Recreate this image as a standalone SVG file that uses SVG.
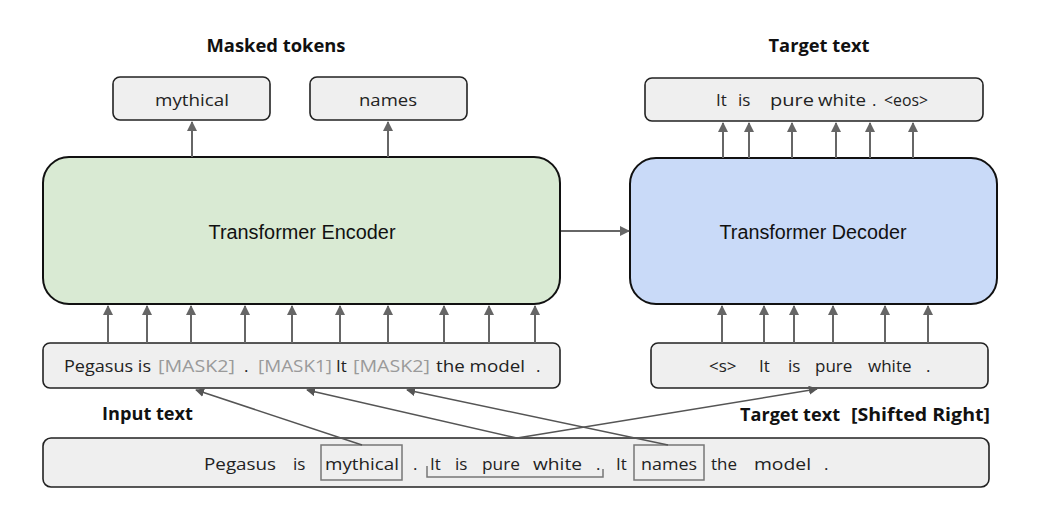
<svg xmlns="http://www.w3.org/2000/svg" width="1038" height="528" viewBox="0 0 1038 528">
<defs>
<marker id="ah" viewBox="0 0 10 10" refX="9" refY="5" markerWidth="10" markerHeight="10" markerUnits="userSpaceOnUse" orient="auto">
<path d="M0,0 L10,5 L0,10 z" fill="#666"/>
</marker>
<marker id="ah2" viewBox="0 0 10 10" refX="9" refY="5" markerWidth="9" markerHeight="9" markerUnits="userSpaceOnUse" orient="auto">
<path d="M0,0 L10,5 L0,10 z" fill="#555"/>
</marker>
<style>
.tok{fill:#efefef;stroke:#222;stroke-width:1.6}
.enc{fill:#d9ead3;stroke:#111;stroke-width:2}
.dec{fill:#c9daf8;stroke:#111;stroke-width:2}
.t{font-family:"Open Sans","Liberation Sans",sans-serif;font-size:17px;fill:#222}
.m{fill:#9a9a9a}
.lbl{font-family:"Open Sans","Liberation Sans",sans-serif;font-size:17px;font-weight:700;fill:#111}
.big{font-family:"Liberation Sans",Arial,sans-serif;font-size:20px;fill:#111}
.ar{stroke:#666;stroke-width:2;fill:none;marker-end:url(#ah)}
.ln{stroke:#555;stroke-width:1.5;fill:none;marker-end:url(#ah2)}
.hl{fill:none;stroke:#777;stroke-width:1.5}
</style>
</defs>
<rect width="1038" height="528" fill="#fff"/>

<g id="label-masked"><text class="lbl" x="276" y="52" text-anchor="middle" textLength="139" lengthAdjust="spacingAndGlyphs">Masked tokens</text></g>
<g id="label-target"><text class="lbl" x="819" y="52" text-anchor="middle" textLength="101" lengthAdjust="spacingAndGlyphs">Target text</text></g>
<g id="label-input"><text class="lbl" x="102" y="420" textLength="91" lengthAdjust="spacingAndGlyphs">Input text</text></g>
<g id="label-shifted"><text class="lbl" y="421"><tspan x="740" textLength="100" lengthAdjust="spacingAndGlyphs">Target text</tspan><tspan x="851" textLength="139" lengthAdjust="spacingAndGlyphs">[Shifted Right]</tspan></text></g>

<g id="mythical">
<rect class="tok" x="113" y="77" width="157" height="43" rx="7"/>
<text class="t" x="192" y="106" text-anchor="middle" textLength="74" lengthAdjust="spacingAndGlyphs">mythical</text>
</g>
<g id="names">
<rect class="tok" x="310" y="77" width="157" height="43" rx="7"/>
<text class="t" x="388" y="106" text-anchor="middle" textLength="58" lengthAdjust="spacingAndGlyphs">names</text>
</g>
<g id="target">
<rect class="tok" x="645" y="78" width="338" height="43" rx="7"/>
<text class="t" y="106"><tspan x="716">It</tspan><tspan x="738">is</tspan><tspan x="770" textLength="44" lengthAdjust="spacingAndGlyphs">pure</tspan><tspan x="818" textLength="48" lengthAdjust="spacingAndGlyphs">white</tspan><tspan x="872">.</tspan><tspan x="884" textLength="44" lengthAdjust="spacingAndGlyphs">&lt;eos&gt;</tspan></text>
</g>

<g id="encoder">
<rect class="enc" x="43" y="157" width="517" height="147" rx="26"/>
<text class="big" x="302" y="239" text-anchor="middle" textLength="187" lengthAdjust="spacingAndGlyphs">Transformer Encoder</text>
</g>
<g id="decoder">
<rect class="dec" x="630" y="158" width="367" height="146" rx="26"/>
<text class="big" x="813" y="239" text-anchor="middle" textLength="187" lengthAdjust="spacingAndGlyphs">Transformer Decoder</text>
</g>

<g id="encoder-input">
<rect class="tok" x="43" y="343" width="517" height="45" rx="7"/>
<text class="t" y="372">
<tspan x="64" textLength="87" lengthAdjust="spacingAndGlyphs">Pegasus is</tspan>
<tspan class="m" x="158" textLength="77" lengthAdjust="spacingAndGlyphs">[MASK2]</tspan>
<tspan x="244">.</tspan>
<tspan class="m" x="258" textLength="74" lengthAdjust="spacingAndGlyphs">[MASK1]</tspan>
<tspan x="336">It</tspan>
<tspan class="m" x="353" textLength="77" lengthAdjust="spacingAndGlyphs">[MASK2]</tspan>
<tspan x="436" textLength="89" lengthAdjust="spacingAndGlyphs">the model</tspan>
<tspan x="536">.</tspan>
</text>
</g>
<g id="decoder-input">
<rect class="tok" x="651" y="343" width="337" height="45" rx="7"/>
<text class="t" y="372"><tspan x="709">&lt;s&gt;</tspan><tspan x="759">It</tspan><tspan x="788">is</tspan><tspan x="815">pure</tspan><tspan x="868">white</tspan><tspan x="926">.</tspan></text>
</g>

<g id="source">
<rect class="tok" x="43" y="438" width="946" height="49" rx="8"/>
<rect class="hl" x="321" y="445" width="81" height="35"/>
<rect class="hl" x="634" y="445" width="70" height="35"/>
<path class="hl" d="M427,466 V477 H603 V469"/>
<text class="t" y="470">
<tspan x="204" textLength="72" lengthAdjust="spacingAndGlyphs">Pegasus</tspan>
<tspan x="293">is</tspan>
<tspan x="325" textLength="74" lengthAdjust="spacingAndGlyphs">mythical</tspan>
<tspan x="413">.</tspan>
<tspan x="430">It</tspan>
<tspan x="455">is</tspan>
<tspan x="482" textLength="38" lengthAdjust="spacingAndGlyphs">pure</tspan>
<tspan x="533" textLength="49" lengthAdjust="spacingAndGlyphs">white</tspan>
<tspan x="596">.</tspan>
<tspan x="616">It</tspan>
<tspan x="641" textLength="56" lengthAdjust="spacingAndGlyphs">names</tspan>
<tspan x="711" textLength="26" lengthAdjust="spacingAndGlyphs">the</tspan>
<tspan x="754" textLength="57" lengthAdjust="spacingAndGlyphs">model</tspan>
<tspan x="824">.</tspan>
</text>
</g>

<g id="connectors">
<line class="ar" x1="192" y1="157" x2="192" y2="122"/>
<line class="ar" x1="388" y1="157" x2="388" y2="122"/>
<line class="ar" x1="723" y1="158" x2="723" y2="123"/>
<line class="ar" x1="749" y1="158" x2="749" y2="123"/>
<line class="ar" x1="792" y1="158" x2="792" y2="123"/>
<line class="ar" x1="836" y1="158" x2="836" y2="123"/>
<line class="ar" x1="870" y1="158" x2="870" y2="123"/>
<line class="ar" x1="913" y1="158" x2="913" y2="123"/>
<line class="ar" x1="561" y1="231" x2="629" y2="231"/>
<line class="ar" x1="108" y1="343" x2="108" y2="306"/>
<line class="ar" x1="147" y1="343" x2="147" y2="306"/>
<line class="ar" x1="191" y1="343" x2="191" y2="306"/>
<line class="ar" x1="245" y1="343" x2="245" y2="306"/>
<line class="ar" x1="292" y1="343" x2="292" y2="306"/>
<line class="ar" x1="340" y1="343" x2="340" y2="306"/>
<line class="ar" x1="388" y1="343" x2="388" y2="306"/>
<line class="ar" x1="444" y1="343" x2="444" y2="306"/>
<line class="ar" x1="489" y1="343" x2="489" y2="306"/>
<line class="ar" x1="535" y1="343" x2="535" y2="306"/>
<line class="ar" x1="722" y1="343" x2="722" y2="306"/>
<line class="ar" x1="764" y1="343" x2="764" y2="306"/>
<line class="ar" x1="794" y1="343" x2="794" y2="306"/>
<line class="ar" x1="833" y1="343" x2="833" y2="306"/>
<line class="ar" x1="885" y1="343" x2="885" y2="306"/>
<line class="ar" x1="928" y1="343" x2="928" y2="306"/>
<line class="ln" x1="362" y1="445" x2="196" y2="390"/>
<line class="ln" x1="517" y1="438" x2="307" y2="390"/>
<line class="ln" x1="668" y1="445" x2="407" y2="390"/>
<line class="ln" x1="517" y1="438" x2="817" y2="389"/>
</g>
</svg>
